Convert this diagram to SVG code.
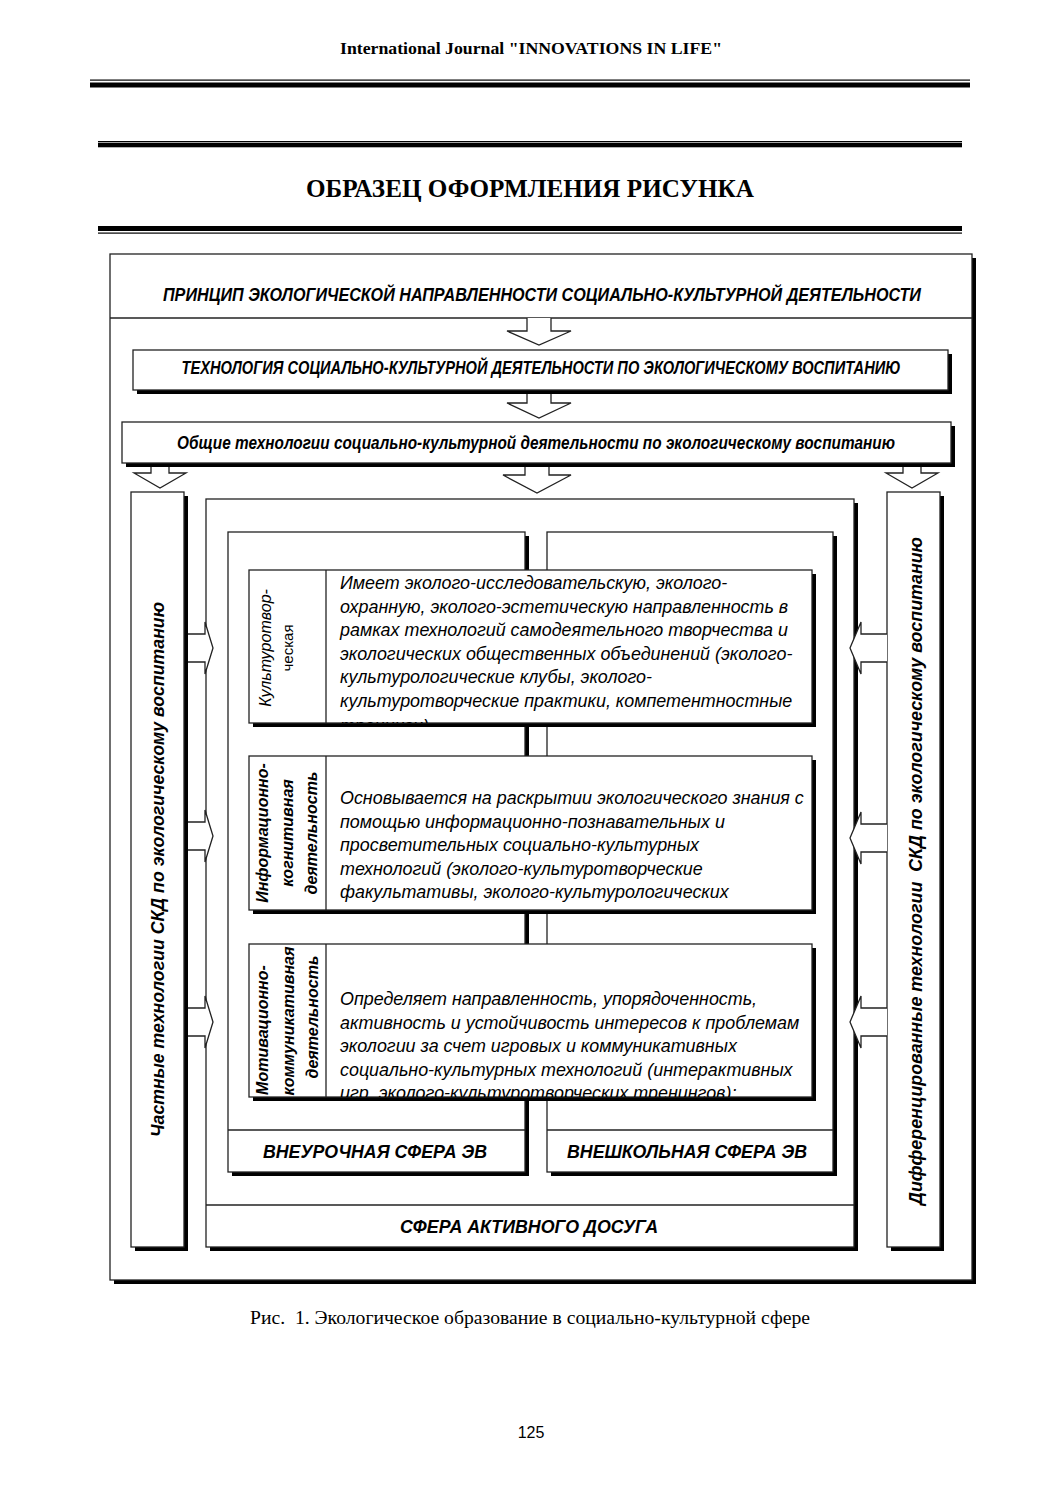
<svg xmlns="http://www.w3.org/2000/svg" width="1061" height="1500" viewBox="0 0 1061 1500">
<style>
.bx{fill:#fff;stroke:#222;stroke-width:1.3}
.sh{fill:#000}
.ln{stroke:#222;stroke-width:1.3;fill:none}
.ar{fill:#fff;stroke:#222;stroke-width:1.3;stroke-linejoin:miter}
.hd{font-family:"Liberation Sans",Arial,sans-serif;font-weight:bold;font-style:italic;fill:#000}
.bd{font-family:"Liberation Sans",Arial,sans-serif;font-style:italic;font-size:17.9px;fill:#000}
.lb{font-family:"Liberation Sans",Arial,sans-serif;font-weight:bold;font-style:italic;font-size:16px;fill:#000}
.sf{font-family:"Liberation Serif","Times New Roman",serif;fill:#000}
</style>
<defs>
<clipPath id="c1"><rect x="326" y="570" width="486" height="153"/></clipPath>
<clipPath id="c2"><rect x="326" y="756" width="486" height="154"/></clipPath>
<clipPath id="c3"><rect x="326" y="944" width="486" height="153"/></clipPath>
</defs>

<g id="page-header">
<text class="sf" x="531" y="54" font-size="17" font-weight="bold" text-anchor="middle" textLength="382" lengthAdjust="spacingAndGlyphs">International Journal "INNOVATIONS IN LIFE"</text>
<rect x="90" y="79.5" width="880" height="1.2" fill="#000"/>
<rect x="90" y="82.5" width="880" height="5" fill="#000"/>
<rect x="98" y="141" width="864" height="1.2" fill="#000"/>
<rect x="98" y="142.8" width="864" height="4.5" fill="#000"/>
<text class="sf" x="530" y="197" font-size="25" font-weight="bold" text-anchor="middle" textLength="448" lengthAdjust="spacingAndGlyphs">ОБРАЗЕЦ ОФОРМЛЕНИЯ РИСУНКА</text>
<rect x="98" y="226" width="864" height="5" fill="#000"/>
<rect x="98" y="232.5" width="864" height="1.2" fill="#000"/>
</g>

<g id="outer">
<rect class="sh" x="114" y="258" width="862" height="1026"/>
<rect class="bx" x="110" y="254" width="862" height="1026"/>
<line class="ln" x1="110" y1="318" x2="972" y2="318"/>
<text class="hd" x="542" y="301" font-size="17.5" text-anchor="middle" textLength="758" lengthAdjust="spacingAndGlyphs">ПРИНЦИП ЭКОЛОГИЧЕСКОЙ НАПРАВЛЕННОСТИ СОЦИАЛЬНО-КУЛЬТУРНОЙ ДЕЯТЕЛЬНОСТИ</text>
</g>

<g id="tech">
<rect class="sh" x="137" y="354" width="815" height="40"/>
<rect class="bx" x="133" y="350" width="815" height="40"/>
<text class="hd" x="541" y="374" font-size="17.5" text-anchor="middle" textLength="719" lengthAdjust="spacingAndGlyphs">ТЕХНОЛОГИЯ СОЦИАЛЬНО-КУЛЬТУРНОЙ ДЕЯТЕЛЬНОСТИ ПО ЭКОЛОГИЧЕСКОМУ ВОСПИТАНИЮ</text>
</g>

<g id="general">
<rect class="sh" x="126" y="426" width="829" height="41"/>
<rect class="bx" x="122" y="422" width="829" height="41"/>
<text class="hd" x="536" y="449" font-size="17.5" text-anchor="middle" textLength="718" lengthAdjust="spacingAndGlyphs">Общие технологии социально-культурной деятельности по экологическому воспитанию</text>
</g>

<g id="private">
<rect class="sh" x="135" y="496" width="53" height="755"/>
<rect class="bx" x="131" y="492" width="53" height="755"/>
<text class="hd" font-size="18" text-anchor="middle" transform="translate(164,869.5) rotate(-90)" textLength="535" lengthAdjust="spacingAndGlyphs">Частные технологии СКД по экологическому воспитанию</text>
</g>

<g id="diff">
<rect class="sh" x="891" y="496" width="53" height="755"/>
<rect class="bx" x="887" y="492" width="53" height="755"/>
<text class="hd" font-size="18" text-anchor="middle" transform="translate(922,871) rotate(-90)" textLength="668" lengthAdjust="spacingAndGlyphs" xml:space="preserve" style="white-space:pre">Дифференцированные технологии  СКД по экологическому воспитанию</text>
</g>

<g id="leisure">
<rect class="sh" x="210" y="503" width="648" height="748"/>
<rect class="bx" x="206" y="499" width="648" height="748"/>
<line class="ln" x1="206" y1="1205" x2="854" y2="1205"/>
<text class="hd" x="529" y="1233" font-size="18" text-anchor="middle" textLength="258" lengthAdjust="spacingAndGlyphs">СФЕРА АКТИВНОГО ДОСУГА</text>
</g>

<g id="extracurricular">
<rect class="sh" x="232" y="536" width="297" height="640"/>
<rect class="bx" x="228" y="532" width="297" height="640"/>
<line class="ln" x1="228" y1="1130" x2="525" y2="1130"/>
<text class="hd" x="375" y="1158" font-size="18" text-anchor="middle" textLength="224" lengthAdjust="spacingAndGlyphs">ВНЕУРОЧНАЯ СФЕРА ЭВ</text>
</g>

<g id="outofschool">
<rect class="sh" x="551" y="536" width="286" height="640"/>
<rect class="bx" x="547" y="532" width="286" height="640"/>
<line class="ln" x1="547" y1="1130" x2="833" y2="1130"/>
<text class="hd" x="687" y="1158" font-size="18" text-anchor="middle" textLength="240" lengthAdjust="spacingAndGlyphs">ВНЕШКОЛЬНАЯ СФЕРА ЭВ</text>
</g>

<g id="culture">
<rect class="sh" x="253" y="574" width="563" height="153"/>
<rect class="bx" x="249" y="570" width="563" height="153"/>
<line class="ln" x1="326" y1="570" x2="326" y2="723"/>
<text font-family="Liberation Sans, Arial, sans-serif" font-style="italic" font-size="16" text-anchor="middle" transform="translate(271,648) rotate(-90)">Культуротвор-</text>
<text font-family="Liberation Sans, Arial, sans-serif" font-size="15" text-anchor="middle" transform="translate(293,648) rotate(-90)">ческая</text>
<g clip-path="url(#c1)">
<text class="bd" x="340" y="589">Имеет эколого-исследовательскую, эколого-</text>
<text class="bd" x="340" y="612.6">охранную, эколого-эстетическую направленность в</text>
<text class="bd" x="340" y="636.2">рамках технологий самодеятельного творчества и</text>
<text class="bd" x="340" y="659.8">экологических общественных объединений (эколого-</text>
<text class="bd" x="340" y="683.4">культурологические клубы, эколого-</text>
<text class="bd" x="340" y="707">культуротворческие практики, компетентностные</text>
<text class="bd" x="340" y="731.5">тренинги)</text>
</g>
</g>

<g id="info">
<rect class="sh" x="253" y="760" width="563" height="154"/>
<rect class="bx" x="249" y="756" width="563" height="154"/>
<line class="ln" x1="326" y1="756" x2="326" y2="910"/>
<text class="lb" text-anchor="middle" transform="translate(268,833) rotate(-90)">Информационно-</text>
<text class="lb" text-anchor="middle" transform="translate(293,833) rotate(-90)">когнитивная</text>
<text class="lb" text-anchor="middle" transform="translate(317,833) rotate(-90)">деятельность</text>
<g clip-path="url(#c2)">
<text class="bd" x="340" y="804">Основывается на раскрытии экологического знания с</text>
<text class="bd" x="340" y="827.5">помощью информационно-познавательных и</text>
<text class="bd" x="340" y="851">просветительных социально-культурных</text>
<text class="bd" x="340" y="874.5">технологий (эколого-культуротворческие</text>
<text class="bd" x="340" y="898">факультативы, эколого-культурологических</text>
</g>
</g>

<g id="motiv">
<rect class="sh" x="253" y="948" width="563" height="153"/>
<rect class="bx" x="249" y="944" width="563" height="153"/>
<line class="ln" x1="326" y1="944" x2="326" y2="1097"/>
<text class="lb" text-anchor="middle" transform="translate(268,1030) rotate(-90)">Мотивационно-</text>
<text class="lb" text-anchor="middle" transform="translate(294,1021) rotate(-90)">коммуникативная</text>
<text class="lb" text-anchor="middle" transform="translate(318,1017) rotate(-90)">деятельность</text>
<g clip-path="url(#c3)">
<text class="bd" x="340" y="1005">Определяет направленность, упорядоченность,</text>
<text class="bd" x="340" y="1028.5">активность и устойчивость интересов к проблемам</text>
<text class="bd" x="340" y="1052">экологии за счет игровых и коммуникативных</text>
<text class="bd" x="340" y="1075.5">социально-культурных технологий (интерактивных</text>
<text class="bd" x="340" y="1099">игр, эколого-культуротворческих тренингов);</text>
</g>
</g>

<g id="connectors">
<path class="ar" d="M527,318 V331 H507 L539,345 L571,331 H551 V318"/>
<path class="ar" d="M527,394 V403 H507 L539,418 L571,403 H551 V394"/>
<path class="ar" d="M525,467 V475 H503 L537,493 L571,475 H549 V467"/>
<path class="ar" d="M151,467 V473 H134 L160,488 L186,473 H169 V467"/>
<path class="ar" d="M903,467 V473 H886 L912,488 L938,473 H921 V467"/>
<path class="ar" d="M188,634 H205 V622 L213,648 L205,674 V662 H188"/>
<path class="ar" d="M188,822 H205 V810 L213,836 L205,862 V850 H188"/>
<path class="ar" d="M188,1008 H205 V996 L213,1022 L205,1048 V1036 H188"/>
<path class="ar" d="M887,634 H861 V622 L850,648 L861,674 V662 H887"/>
<path class="ar" d="M887,824 H861 V812 L850,838 L861,864 V852 H887"/>
<path class="ar" d="M887,1008 H861 V996 L850,1022 L861,1048 V1036 H887"/>
</g>

<g id="caption">
<text class="sf" x="530" y="1324" font-size="18" text-anchor="middle" textLength="560" lengthAdjust="spacingAndGlyphs" xml:space="preserve" style="white-space:pre">Рис.  1. Экологическое образование в социально-культурной сфере</text>
<text x="531" y="1438" font-family="Liberation Sans, Arial, sans-serif" font-size="16" text-anchor="middle">125</text>
</g>
</svg>
